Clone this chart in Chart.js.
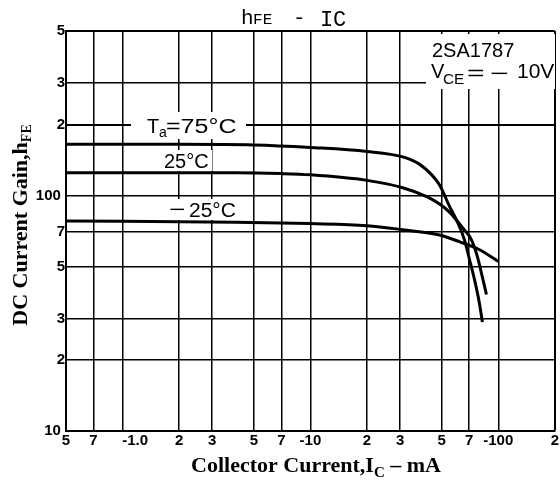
<!DOCTYPE html>
<html lang="en">
<head>
  <meta charset="UTF-8">
  <title>hFE - IC</title>
  <script src="https://cdn.jsdelivr.net/npm/chart.js"></script>
  <style>
    body { margin: 0; background: #fff; }
    #wrap { width: 560px; height: 483px; }
  </style>
</head>
<body>
  <div id="wrap"><canvas id="chart" width="560" height="483"></canvas></div>
  <script>
    // |Ic| in mA and hFE
    const icHot = [0.5, 2, 5, 10, 20, 31, 38, 44, 48.7, 55, 60.7, 66, 70.3, 74.7, 79.3, 82.3];
    const hfeHot = [165, 165, 164, 160, 154, 146, 136, 123, 111, 90, 77, 65, 53.5, 44, 35, 29];
    const icRoom = [0.5, 4, 7, 10, 20, 31, 41.6, 48.7, 55, 60, 64.5, 71.9, 77.4, 82.3, 86.5];
    const hfeRoom = [125, 125, 124, 122.5, 116, 108, 99, 92, 85, 78.5, 73, 65, 55, 45, 38];
    const icCold = [0.5, 4, 10, 20, 31, 48.7, 62, 79, 100];
    const hfeCold = [78, 77, 76, 74.5, 71.6, 68, 63.7, 59, 52.5];

    const xTicks = [0.5, 0.7, 1, 2, 3, 5, 7, 10, 20, 30, 50, 70, 100, 200];
    const xLabels = ['5', '7', '      -1.0', '2', '3', '5', '7', '-10', '2', '3', '5', '7', '-100', '2'];
    const yTicks = [10, 20, 30, 50, 70, 100, 200, 300, 500];
    const yLabels = ['10 ', '2', '3', '5', '7', '100 ', '2', '3', '5'];

    const SANS = '"Liberation Sans", Arial, sans-serif';
    const SERIF = '"Liberation Serif", "Times New Roman", serif';
    const MONO = '"Liberation Mono", "DejaVu Sans Mono", monospace';

    const pts = (xs, ys) => xs.map((x, i) => ({ x: x, y: ys[i] }));

    function put(ctx, t, x, y, size, family, opt) {
      opt = opt || {};
      ctx.save();
      ctx.font = (opt.weight || 'normal') + ' ' + size + 'px ' + family;
      ctx.fillStyle = '#000';
      ctx.textBaseline = 'alphabetic';
      ctx.translate(x, y);
      ctx.scale(opt.sx || 1, 1);
      ctx.fillText(t, 0, 0);
      ctx.restore();
    }

    const notes = {
      id: 'notes',
      beforeDatasetsDraw(chart) {
        const ctx = chart.ctx;
        ctx.save();
        ctx.fillStyle = '#fff';
        // white patches behind the labels, the grid stops there
        ctx.fillRect(131, 112, 115, 27);
        ctx.fillRect(162, 150, 50, 21);
        ctx.fillRect(166, 199, 74, 21);
        ctx.fillRect(426, 34, 129, 55);
        ctx.restore();

        put(ctx, 'T', 147, 133, 20, SANS);
        put(ctx, 'a', 159, 137, 14, SANS);
        put(ctx, '=75°C', 166, 133, 20, SANS, { sx: 1.25 });
        put(ctx, '25°C', 164, 168, 20, SANS);
        put(ctx, '−', 169, 216, 20, SANS, { sx: 1.4 });
        put(ctx, '25°C', 189, 217, 20, SANS, { sx: 1.05 });

        put(ctx, '2SA1787', 432, 57, 20, SANS);
        put(ctx, 'V', 431, 78, 20, SANS);
        put(ctx, 'CE', 443, 84, 14, SANS, { sx: 1.1 });
        put(ctx, '=', 467, 80, 20, SANS, { sx: 1.5 });
        put(ctx, '−', 490, 80, 20, SANS, { sx: 1.6 });
        put(ctx, '10V', 517, 78, 20, SANS, { sx: 1.05 });
      },
      afterDraw(chart) {
        const ctx = chart.ctx;
        // title
        put(ctx, 'h', 241, 24, 21, MONO);
        put(ctx, 'FE', 253, 24, 14, MONO, { sx: 1.15 });
        put(ctx, '-', 293, 24, 21, MONO);
        put(ctx, 'I', 320, 26, 22, MONO);
        put(ctx, 'C', 333, 26, 22, MONO);

        // x axis title
        ctx.save();
        ctx.font = 'bold 22px ' + SERIF;
        const a = 'Collector Current,I', b = ' – mA';
        const wa = ctx.measureText(a).width, wb = ctx.measureText(b).width;
        ctx.font = 'bold 15px ' + SERIF;
        const wc = ctx.measureText('C').width;
        ctx.restore();
        const x0 = 316 - (wa + wb + wc) / 2;
        put(ctx, a, x0, 472, 22, SERIF, { weight: 'bold' });
        put(ctx, 'C', x0 + wa, 477, 15, SERIF, { weight: 'bold' });
        put(ctx, b, x0 + wa + wc, 472, 22, SERIF, { weight: 'bold' });

        // y axis title, rotated
        ctx.save();
        ctx.translate(27, 225);
        ctx.rotate(-Math.PI / 2);
        ctx.font = 'bold 22px ' + SERIF;
        const m = 'DC Current Gain,h';
        const wm = ctx.measureText(m).width;
        ctx.font = 'bold 14px ' + SERIF;
        const ws = ctx.measureText('FE').width;
        const s0 = -(wm + ws) / 2;
        put(ctx, m, s0, 0, 22, SERIF, { weight: 'bold' });
        put(ctx, 'FE', s0 + wm, 4, 14, SERIF, { weight: 'bold' });
        ctx.restore();
      }
    };

    const line = (label, data) => ({
      label: label,
      data: data,
      borderColor: '#000',
      borderWidth: 3,
      pointRadius: 0,
      fill: false,
      cubicInterpolationMode: 'monotone'
    });

    const gridWidth = c => (c.tick && (c.tick.value === 500 || c.tick.value === 200) ? 2 : 1.5);

    new Chart(document.getElementById('chart'), {
      type: 'line',
      data: {
        datasets: [
          line('Ta=75°C', pts(icHot, hfeHot)),
          line('25°C', pts(icRoom, hfeRoom)),
          line('-25°C', pts(icCold, hfeCold))
        ]
      },
      options: {
        responsive: false,
        animation: false,
        devicePixelRatio: 1,
        layout: { padding: { top: 31, right: 4, left: 0, bottom: 0 } },
        plugins: { legend: { display: false }, tooltip: { enabled: false } },
        scales: {
          x: {
            type: 'logarithmic',
            min: 0.5,
            max: 200,
            afterBuildTicks: s => { s.ticks = xTicks.map(v => ({ value: v })); },
            afterFit: s => { s.height = 52; },
            grid: { color: '#000', lineWidth: gridWidth, drawTicks: false },
            border: { color: '#000', width: 2 },
            ticks: {
              callback: (v, i) => xLabels[i],
              autoSkip: false,
              maxRotation: 0,
              padding: 1,
              color: '#000',
              font: { family: SANS, size: 15, weight: 'bold' }
            }
          },
          y: {
            type: 'logarithmic',
            min: 10,
            max: 500,
            afterBuildTicks: s => { s.ticks = yTicks.map(v => ({ value: v })); },
            afterFit: s => { s.width = 66; },
            grid: { color: '#000', lineWidth: gridWidth, drawTicks: false },
            border: { color: '#000', width: 2 },
            ticks: {
              callback: (v, i) => yLabels[i],
              autoSkip: false,
              padding: 1,
              color: '#000',
              font: { family: SANS, size: 15, weight: 'bold' }
            }
          }
        }
      },
      plugins: [notes]
    });
  </script>
</body>
</html>
